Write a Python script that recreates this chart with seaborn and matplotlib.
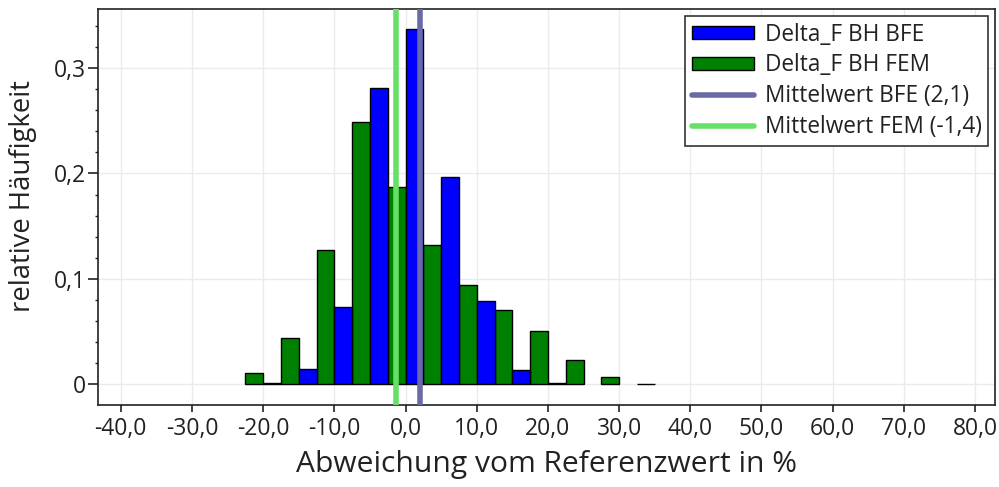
import matplotlib
matplotlib.use("Agg")
import matplotlib.pyplot as plt
from matplotlib.patches import Patch
from matplotlib.lines import Line2D
from matplotlib.ticker import FuncFormatter, MultipleLocator
import numpy as np
import pandas as pd
import seaborn as sns

# Bin centres (in %) and relative frequencies per method
bin_centers = [-20, -15, -10, -5, 0, 5, 10, 15, 20, 25, 30, 35]
freq_bfe = [0.001, 0.0145, 0.0728, 0.2807, 0.337, 0.197, 0.0785, 0.0136, 0.0015, None, None, None]
freq_fem = [0.0104, 0.0443, 0.1269, 0.249, 0.1867, 0.132, 0.0937, 0.0703, 0.0509, 0.0231, 0.0066, 0.0006]

series_bfe = "Delta_F BH BFE"
series_fem = "Delta_F BH FEM"
mean_bfe = 2.1
mean_fem = -1.4

x_ticks = [-40, -30, -20, -10, 0, 10, 20, 30, 40, 50, 60, 70, 80]
y_ticks = [0, 0.1, 0.2, 0.3]

color_bfe = "#0000ff"
color_fem = "#008000"
color_mean_bfe = "#6a6aa6"
color_mean_fem = "#66e066"

rows = []
for c, vb, vf in zip(bin_centers, freq_bfe, freq_fem):
    if vf is not None:
        rows.append({"bin": c, "freq": vf, "series": series_fem})
    if vb is not None:
        rows.append({"bin": c, "freq": vb, "series": series_bfe})
df = pd.DataFrame(rows)

sns.set_theme(style="whitegrid")
plt.rcParams["font.family"] = ["Open Sans", "DejaVu Sans"]

fig = plt.figure(figsize=(9.99, 4.87), dpi=100)
ax = fig.add_axes([0.0981, 0.1684, 0.8979, 0.8131])

sns.barplot(
    data=df, x="bin", y="freq", hue="series",
    hue_order=[series_fem, series_bfe],
    palette={series_fem: color_fem, series_bfe: color_bfe},
    native_scale=True, dodge=True, width=1.0, gap=0,
    saturation=1, errorbar=None, edgecolor="black", linewidth=1.0,
    legend=False, ax=ax, zorder=3,
)

ax.axvline(mean_fem, color=color_mean_fem, lw=4, zorder=4)
ax.axvline(mean_bfe, color=color_mean_bfe, lw=4, zorder=4)

ax.set_xlim(-43.2, 82.8)
ax.set_ylim(-0.0197, 0.356)
ax.set_xticks(x_ticks)
ax.set_yticks(y_ticks)
ax.yaxis.set_minor_locator(MultipleLocator(0.02))

def de_fmt_x(v, pos):
    return f"{v:.1f}".replace(".", ",")

def de_fmt_y(v, pos):
    if abs(v) < 1e-9:
        return "0"
    return f"{v:.1f}".replace(".", ",")

ax.xaxis.set_major_formatter(FuncFormatter(de_fmt_x))
ax.yaxis.set_major_formatter(FuncFormatter(de_fmt_y))

ax.grid(True, which="major", color="#ebebeb", linewidth=1.0)
ax.grid(False, which="minor")
ax.set_axisbelow(True)
ax.set_facecolor("white")
for s in ax.spines.values():
    s.set_color("#222222")
    s.set_linewidth(1.2)

ax.tick_params(axis="both", which="major", direction="out", width=1.2,
               color="#222222", labelsize=16.5, labelcolor="#222222", bottom=True, left=True)
ax.tick_params(axis="x", which="major", length=5, pad=4)
ax.tick_params(axis="y", which="major", length=7, pad=1.5)
ax.tick_params(axis="y", which="minor", direction="out", length=2.5, width=1.0,
               color="#222222", left=True)

ax.set_xlabel("Abweichung vom Referenzwert in %", fontsize=21.6, color="#222222", labelpad=6)
ax.set_ylabel("relative Häufigkeit", fontsize=19.8, color="#222222", labelpad=12)
ax.yaxis.set_label_coords(-0.068, 0.5265)

handles = [
    Patch(facecolor=color_bfe, edgecolor="black", linewidth=1.0),
    Patch(facecolor=color_fem, edgecolor="black", linewidth=1.0),
    Line2D([0], [0], color=color_mean_bfe, lw=4),
    Line2D([0], [0], color=color_mean_fem, lw=4),
]
labels = [series_bfe, series_fem, "Mittelwert BFE (2,1)", "Mittelwert FEM (-1,4)"]
leg = ax.legend(handles, labels, loc="upper right", fontsize=16.3, frameon=True,
                fancybox=False, shadow=False, edgecolor="#333333", framealpha=1,
                handlelength=2.75, handleheight=0.55, handletextpad=0.45,
                labelspacing=0.3, borderpad=0.3, borderaxespad=0.3)
leg.get_frame().set_linewidth(1.2)
for t in leg.get_texts():
    t.set_color("#222222")

fig.savefig("out.png", dpi=100, facecolor="white")
